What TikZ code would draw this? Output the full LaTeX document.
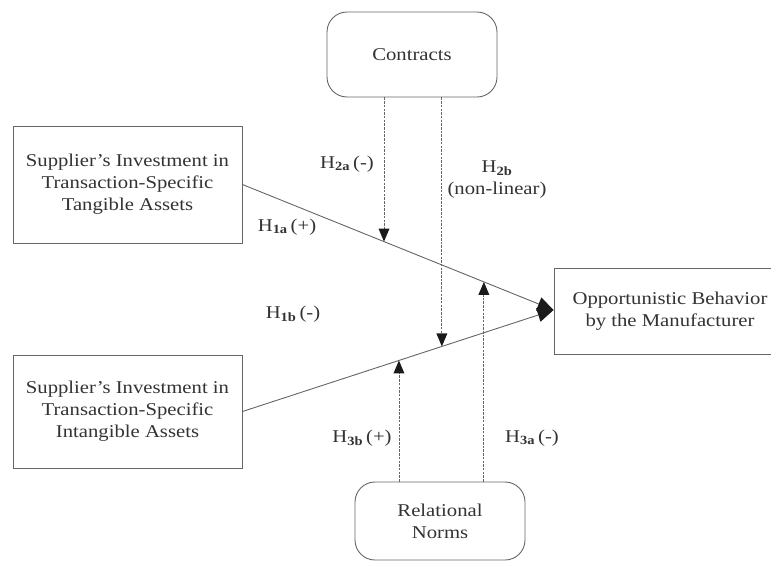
\documentclass[tikz,border=0pt]{standalone}
\usepackage{fontspec}
\setmainfont{Liberation Serif}[FakeStretch=1.15]
\usetikzlibrary{arrows.meta,calc}
\definecolor{ink}{HTML}{333333}
\definecolor{edge}{HTML}{666666}
\definecolor{tipc}{HTML}{1A1A1A}
\newcommand{\hyp}[2]{H\textsubscript{\textbf{#1}}\,#2}
\begin{document}
\begin{tikzpicture}[x=1pt,y=-1pt,
  every node/.style={text=ink, font=\fontsize{18}{22}\selectfont},
  sqbox/.style={draw=edge, line width=0.9pt, align=center, inner sep=0pt},
  rbox/.style={sqbox, rounded corners=20pt},
  path/.style={draw=edge, line width=0.9pt},
  modline/.style={draw=edge, line width=0.8pt, dash pattern=on 2.5pt off 1.2pt},
  head/.style={fill=tipc},
  bigtip/.style={-{Triangle[length=16pt,width=14pt,color=tipc]}},
  lbl/.style={inner sep=0pt}]
\useasboundingbox (0,0) rectangle (771,563);
\fill[white] (0,0) rectangle (771,563);

% constructs
\node[sqbox, minimum width=229pt, minimum height=117pt] (tang) at (127.5,184.5)
  {Supplier's Investment in\\Transaction-Specific\\Tangible Assets};
\node[sqbox, minimum width=229pt, minimum height=113pt] (intang) at (127.5,411.5)
  {Supplier's Investment in\\Transaction-Specific\\Intangible Assets};
\node[sqbox, minimum width=232pt, minimum height=86pt] (opp) at (670,311)
  {Opportunistic Behavior\\by the Manufacturer};
\node[rbox, minimum width=170pt, minimum height=85pt] (contr) at (412,54.5) {Contracts};
\node[rbox, minimum width=170pt, minimum height=78pt] (norms) at (440,521) {Relational\\Norms};

% main effects
\coordinate (target) at (opp.west |- 0,310);
\draw[path, bigtip] (tang.east) -- (target);
\draw[path, bigtip] (intang.east) -- (target);

% points where moderators meet the main paths
\coordinate (m2a) at ($(tang.east)!0.455!(target)$);
\coordinate (m3a) at ($(tang.east)!0.776!(target)$);
\coordinate (m2b) at ($(intang.east)!0.641!(target)$);
\coordinate (m3b) at ($(intang.east)!0.503!(target)$);

% moderating effects from contracts (downward): dashed shaft, solid head
\foreach \e in {m2a, m2b}{
  \draw[modline] (\e |- contr.south) -- ($(\e)+(0,-8)$);
  \fill[head] (\e) -- ++(-5.5,-13) -- ++(11,0) -- cycle;
}
% moderating effects from relational norms (upward)
\foreach \e in {m3a, m3b}{
  \draw[modline] (\e |- norms.north) -- ($(\e)+(0,8)$);
  \fill[head] (\e) -- ++(-5.5,13) -- ++(11,0) -- cycle;
}

% hypothesis labels
\node[lbl] (h1a) at (287,227) {\hyp{1a}{(+)}};
\node[lbl] (h1b) at (293,314) {\hyp{1b}{(-)}};
\node[lbl] (h2a) at (347,164) {\hyp{2a}{(-)}};
\node[lbl, align=center] (h2b) at (497,180) {H\textsubscript{\textbf{2b}}\\(non-linear)};
\node[lbl] (h3b) at (362,438) {\hyp{3b}{(+)}};
\node[lbl] (h3a) at (532,438) {\hyp{3a}{(-)}};
\end{tikzpicture}
\end{document}
